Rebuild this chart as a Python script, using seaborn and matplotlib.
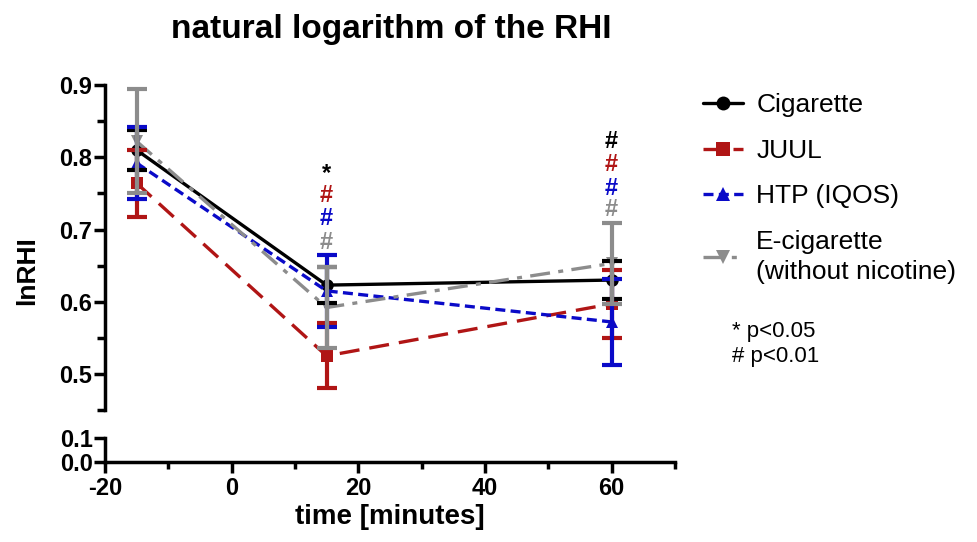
import matplotlib
matplotlib.use("Agg")
import matplotlib.pyplot as plt
import seaborn as sns
import numpy as np
from matplotlib.lines import Line2D

sns.set_style("white")
plt.rcParams['font.family'] = ['Liberation Sans', 'DejaVu Sans']
plt.rcParams['axes.unicode_minus'] = False
for k in ["text.color", "axes.labelcolor", "xtick.color", "ytick.color", "axes.edgecolor"]:
    plt.rcParams[k] = "black"

# ---- data ----
times = [-15, 15, 60]
series_names = ["Cigarette", "JUUL", "HTP (IQOS)", "E-cigarette\n(without nicotine)"]
cig_mean = [0.810, 0.623, 0.630]
cig_err = [0.028, 0.025, 0.026]
juul_mean = [0.764, 0.525, 0.597]
juul_err = [0.046, 0.045, 0.047]
htp_mean = [0.792, 0.615, 0.572]
htp_err = [0.050, 0.050, 0.060]
ecig_mean = [0.822, 0.592, 0.653]
ecig_err = [0.072, 0.056, 0.056]
sig_15 = ["*", "#", "#", "#"]
sig_60 = ["#", "#", "#", "#"]

colors = ["#000000", "#b01515", "#0a0ac8", "#8c8c8c"]
markers = ["o", "s", "^", "v"]
dashes = ["-", (0, (6, 3)), (0, (3, 1.6)), (0, (6, 2.5, 1.5, 2.5))]
means = [cig_mean, juul_mean, htp_mean, ecig_mean]
errs = [cig_err, juul_err, htp_err, ecig_err]

fig = plt.figure(figsize=(9.78, 5.42), dpi=100)
ax = fig.add_axes([0.1074, 0.2435, 0.5826, 0.5995])
axb = fig.add_axes([0.1074, 0.1476, 0.5826, 0.0443], sharex=ax)

for i in range(4):
    sns.lineplot(x=times, y=means[i], ax=ax, color=colors[i], linestyle=dashes[i],
                 linewidth=2.4, marker=markers[i], markersize=9, markeredgewidth=0,
                 errorbar=None, legend=False)
for i in range(4):
    ax.errorbar(times, means[i], yerr=errs[i], fmt="none", ecolor=colors[i],
                elinewidth=3, capsize=7, capthick=3)

ax.set_ylim(0.45, 0.9)
ax.set_xlim(-20, 70)
axb.set_ylim(0, 0.1)

for a in (ax, axb):
    for s in ["top", "right"]:
        a.spines[s].set_visible(False)
    a.spines["left"].set_linewidth(2.5)
    a.spines["bottom"].set_linewidth(2.5)
ax.spines["bottom"].set_visible(False)

ax.set_yticks([0.5, 0.6, 0.7, 0.8, 0.9])
ax.set_yticks([0.45, 0.55, 0.65, 0.75, 0.85], minor=True)
ax.set_yticklabels(["0.5", "0.6", "0.7", "0.8", "0.9"])
ax.tick_params(axis="y", which="major", direction="out", length=8, width=2.5,
               labelsize=17, left=True, pad=1.5)
ax.tick_params(axis="y", which="minor", direction="out", length=6, width=2.5, left=True)
ax.tick_params(axis="x", which="both", bottom=False, labelbottom=False)
for t in ax.get_yticklabels():
    t.set_fontweight("bold")

axb.set_yticks([0.0, 0.1])
axb.set_yticklabels(["0.0", "0.1"])
axb.set_xticks([-20, 0, 20, 40, 60])
axb.set_xticks([-10, 10, 30, 50, 70], minor=True)
axb.tick_params(axis="y", direction="out", length=8, width=2.5, labelsize=17, left=True, pad=1)
axb.tick_params(axis="x", which="major", direction="out", length=8, width=2.5,
                labelsize=17, bottom=True, pad=3)
axb.tick_params(axis="x", which="minor", direction="out", length=5, width=2.5, bottom=True)
for t in axb.get_yticklabels() + axb.get_xticklabels():
    t.set_fontweight("bold")
axb.set_xlabel("time [minutes]", fontsize=20, fontweight="bold", labelpad=3)

fig.text(0.028, 0.50, "lnRHI", rotation=90, fontsize=19, fontweight="bold",
         ha="center", va="center")
fig.text(0.40, 0.945, "natural logarithm of the RHI", fontsize=24, fontweight="bold",
         ha="center", va="center")

# significance markers
ypos15 = [0.667, 0.637, 0.605, 0.572]
ypos60 = [0.712, 0.680, 0.647, 0.618]
for i in range(4):
    ax.text(times[1], ypos15[i] + 0.11, sig_15[i], color=colors[i], ha="center",
            va="center", fontsize=17, fontweight="bold")
    ax.text(times[2], ypos60[i] + 0.11, sig_60[i], color=colors[i], ha="center",
            va="center", fontsize=17, fontweight="bold")

handles = [Line2D([0], [0], color=colors[i], linestyle=dashes[i], linewidth=2.4,
                  marker=markers[i], markersize=10, markeredgewidth=0) for i in range(4)]
leg = fig.legend(handles, series_names, loc="upper left", bbox_to_anchor=(0.695, 0.872),
                 frameon=False, fontsize=19, handlelength=1.5, handletextpad=0.5,
                 labelspacing=0.82)
for t in leg.get_texts():
    t.set_linespacing(1.3)
fig.text(0.748, 0.365, "* p<0.05\n# p<0.01", fontsize=16, ha="left", va="center",
         linespacing=1.25)

fig.savefig("out.png", dpi=100)
